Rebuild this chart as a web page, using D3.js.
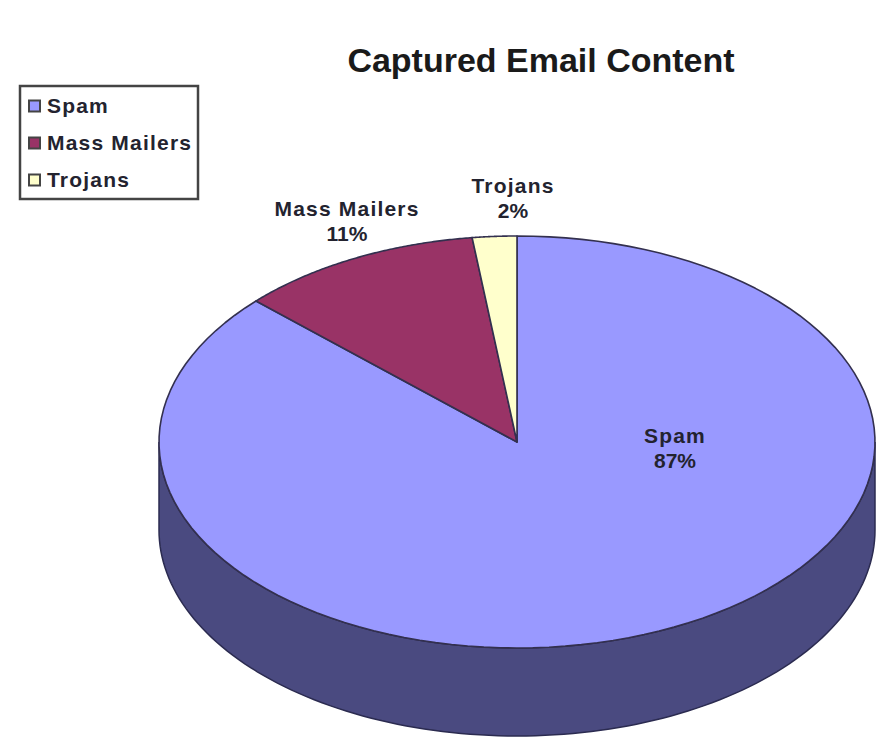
<!DOCTYPE html>
<html><head><meta charset="utf-8">
<script src="https://cdn.jsdelivr.net/npm/d3@7/dist/d3.min.js"></script>
<style>html,body{margin:0;background:#fff}svg{display:block}text{font-family:"Liberation Sans",Arial,sans-serif}</style>
</head><body><svg id="c" width="888" height="742"></svg>
<script>
const categories = ["Spam", "Mass Mailers", "Trojans"];
const shares = [87, 11, 2];
const topColors = ["#9999ff", "#993366", "#ffffcc"];
const sideColors = ["#4a4a80", "#4d1a33", "#808066"];

const svg = d3.select("#c");
const cx = 517, cy = 442, rx = 358, ry = 206, depth = 88;

// Unit-circle pie, flattened into an ellipse through x and y scales
const pie = d3.pie().sort(null).value(d => d)(shares);
const sx = d3.scaleLinear().domain([-1, 1]).range([cx - rx, cx + rx]);
const sy = d3.scaleLinear().domain([-1, 1]).range([cy - ry, cy + ry]);
const px = a => sx(Math.sin(a));
const py = a => sy(-Math.cos(a));
const arcPts = (a0, a1, off) => d3.range(0, 121).map(i => {
  const a = a0 + (a1 - a0) * i / 120;
  return [px(a), py(a) + off];
});
const line = d3.line();

// Extruded wall of the front half
const front = arcPts(Math.PI / 2, Math.PI * 1.5, 0);
const frontLow = arcPts(Math.PI / 2, Math.PI * 1.5, depth).reverse();
svg.append("path").attr("d", line(front.concat(frontLow)) + "Z")
  .attr("fill", sideColors[0]).attr("stroke", "#2b2b50").attr("stroke-width", 1.5);

// Top face wedges
svg.selectAll("path.slice").data(pie).join("path").attr("class", "slice")
  .attr("d", d => line([[cx, cy]].concat(arcPts(d.startAngle, d.endAngle, 0))) + "Z")
  .attr("fill", (d, i) => topColors[i])
  .attr("stroke", "#33304f").attr("stroke-width", 1.6).attr("stroke-linejoin", "round");

// Title
svg.append("text").attr("x", 541).attr("y", 72).attr("text-anchor", "middle")
  .attr("font-size", 34).attr("font-weight", 700).attr("fill", "#1a1a1a")
  .text("Captured Email Content");

// Slice labels
const labelPos = [[675, 436], [347, 209], [513, 186]];
const labels = svg.selectAll("g.lab").data(categories).join("g").attr("class", "lab")
  .attr("transform", (d, i) => `translate(${labelPos[i]})`)
  .attr("text-anchor", "middle").attr("font-size", 21).attr("font-weight", 700)
  .attr("letter-spacing", 1.2).attr("fill", "#23232f");
labels.append("text").attr("y", 7).text(d => d);
labels.append("text").attr("y", 32).attr("letter-spacing", 0).text((d, i) => shares[i] + "%");

// Legend
const lg = svg.append("g");
lg.append("rect").attr("x", 20).attr("y", 86).attr("width", 178).attr("height", 113)
  .attr("fill", "#fff").attr("stroke", "#444").attr("stroke-width", 2.5);
const ly = d3.scalePoint().domain(categories).range([106, 180]);
categories.forEach((c, i) => {
  lg.append("rect").attr("x", 29).attr("y", ly(c) - 5.5).attr("width", 11).attr("height", 11)
    .attr("fill", topColors[i]).attr("stroke", "#444").attr("stroke-width", 2);
  lg.append("text").attr("x", 47).attr("y", ly(c) + 7).attr("font-size", 21)
    .attr("font-weight", 700).attr("letter-spacing", 1.2).attr("fill", "#23232f").text(c);
});
</script></body></html>
